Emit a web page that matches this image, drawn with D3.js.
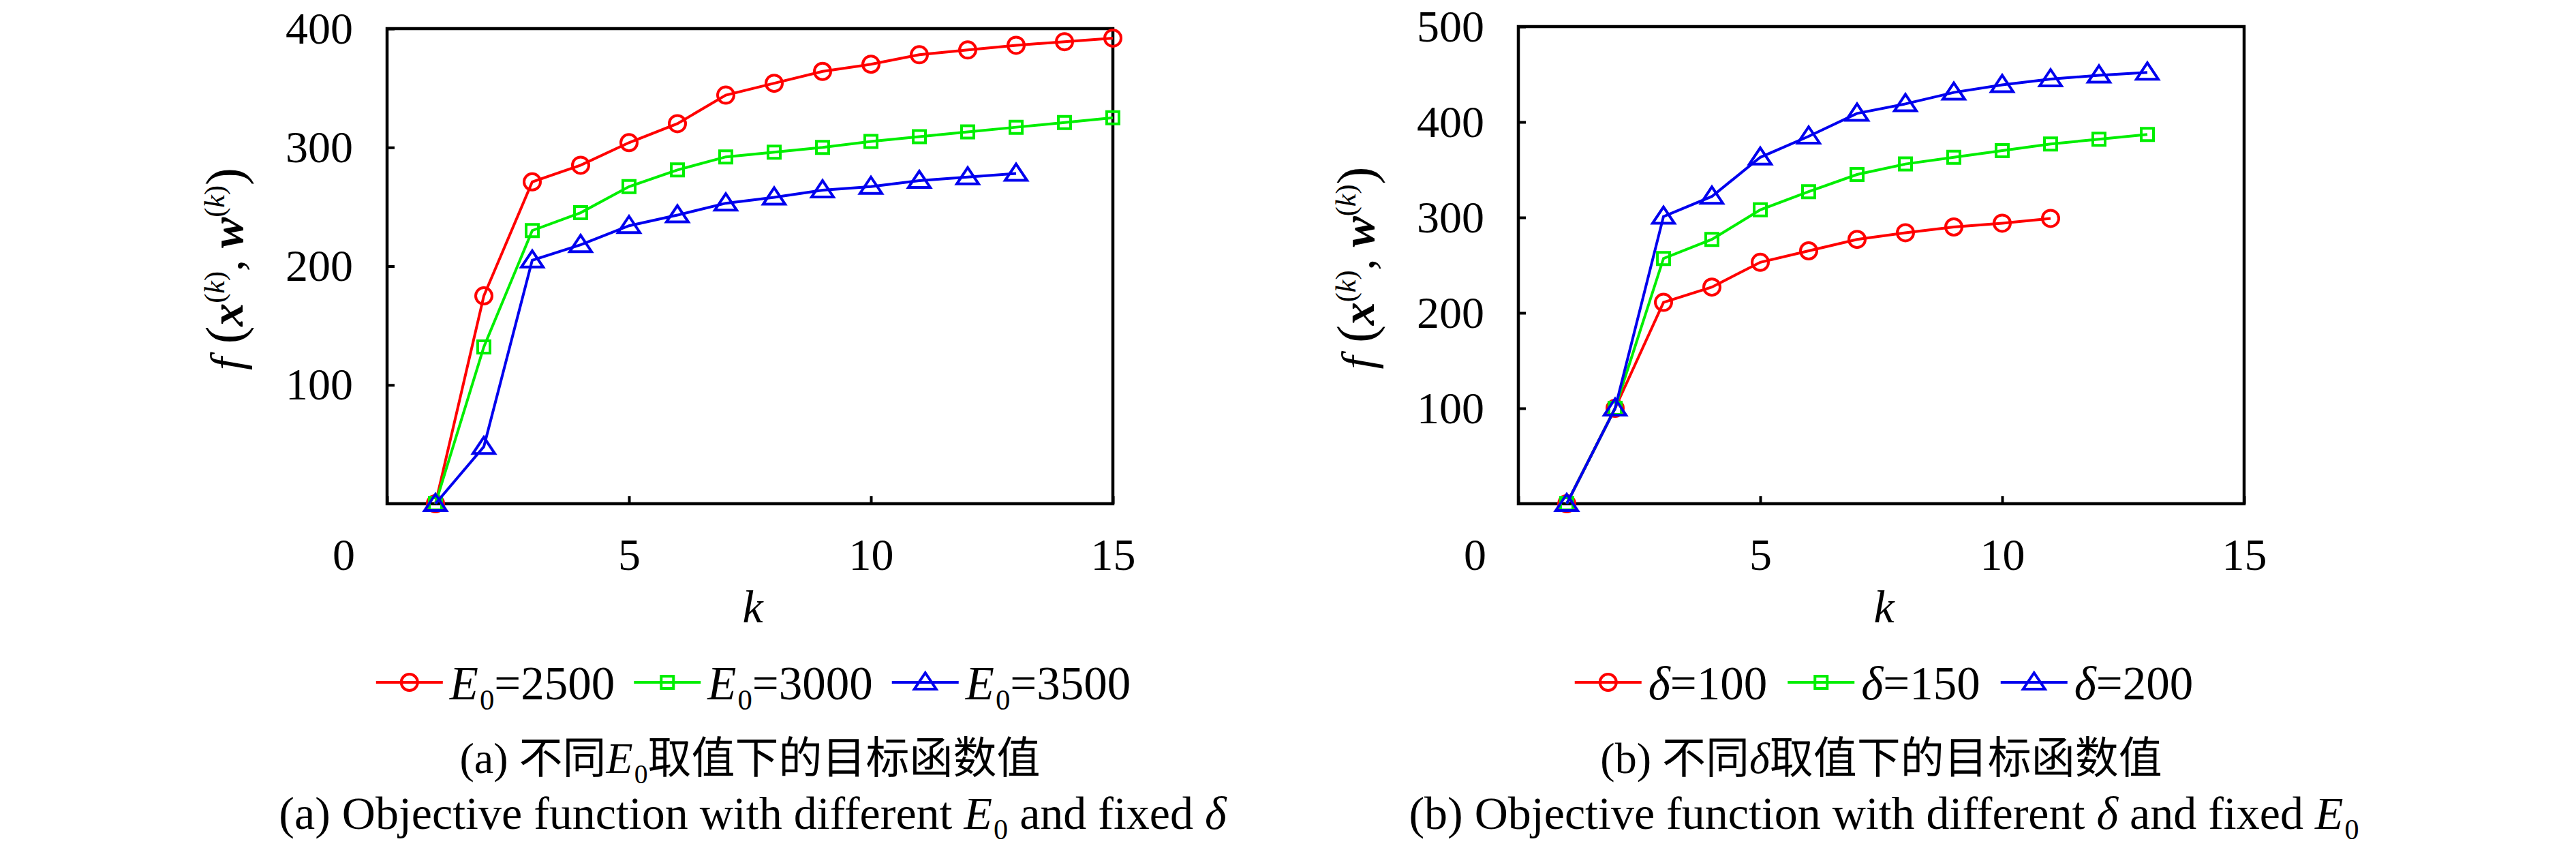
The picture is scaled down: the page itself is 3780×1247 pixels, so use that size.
<!DOCTYPE html>
<html>
<head>
<meta charset="utf-8">
<title>Objective function</title>
<script src="https://cdn.jsdelivr.net/npm/d3@7"></script>
<style>
  body { margin: 0; background: #fff; }
  svg { display: block; background: #fff; }
  text { font-family: "Liberation Serif", "Noto Sans CJK SC", serif; fill: #000; }
</style>
</head>
<body>
<script>
// ---- data ----
// panel (a): different E0, fixed delta
const kA = [1, 2, 3, 4, 5, 6, 7, 8, 9, 10, 11, 12, 13, 14, 15];
const aE2500 = [0, 175, 271, 285, 304, 320, 344, 354, 364, 370, 378, 382, 386, 389, 392];
const aE3000 = [0, 132, 230, 245, 267, 281, 292, 296, 300, 305, 309, 313, 317, 321, 325];
const aE3500 = [0, 48, 205, 218, 234, 243, 253, 258, 264, 267, 272, 275, 278];
const namesA = ["2500", "3000", "3500"];
const yTicksA = [100, 200, 300, 400];

// panel (b): different delta, fixed E0
const kB = [1, 2, 3, 4, 5, 6, 7, 8, 9, 10, 11, 12, 13];
const bD100 = [0, 100, 211, 227, 253, 265, 277, 284, 290, 294, 299];
const bD150 = [0, 100, 257, 277, 308, 327, 345, 356, 363, 370, 377, 382, 387];
const bD200 = [0, 100, 301, 322, 363, 385, 409, 419, 431, 439, 445, 449, 452];
const namesB = ["100", "150", "200"];
const yTicksB = [100, 200, 300, 400, 500];

const xTicks = [0, 5, 10, 15];

const colors = ["#ff0000", "#00ee00", "#0000ee"];
const markers = ["circle", "square", "triangle"];

// ---- drawing ----
const W = 3780, H = 1247;
const svg = d3.select("body").append("svg")
  .attr("width", W)
  .attr("height", H);

// marker shapes
function markerPath(type) {
  if (type === "circle") return "M12,0A12,12 0 1,1 -12,0A12,12 0 1,1 12,0Z";
  if (type === "square") return "M-9,-9H9V9H-9Z";
  return "M0,-14L16,10L-16,10Z";
}

// E with subscript 0; returns the shift the next tspan has to undo
function addE0(t) {
  t.append("tspan").attr("font-style", "italic").text("E");
  t.append("tspan").attr("font-size", "0.62em").attr("dy", 15).attr("dx", 2).text("0");
  return -15;
}
function addDelta(t) {
  t.append("tspan").attr("font-style", "italic").text("δ");
  return 0;
}

function drawPanel(cfg) {
  const g = svg.append("g");
  const x = d3.scaleLinear().domain([0, 15]).range([cfg.left, cfg.right]);
  const y = d3.scaleLinear().domain([0, cfg.yMax]).range([cfg.bottom, cfg.top]);
  const cx = (cfg.left + cfg.right) / 2;

  // y axis
  const yAx = g.append("g")
    .attr("transform", `translate(${cfg.left},0)`)
    .call(d3.axisLeft(y).tickValues(cfg.yTicks).tickSizeInner(-11).tickSizeOuter(0).tickPadding(50));
  yAx.select(".domain").remove();
  yAx.selectAll("line").attr("stroke", "#000").attr("stroke-width", 4);
  yAx.selectAll("text").attr("font-size", 66).attr("font-family", null);

  // x axis
  const xAx = g.append("g")
    .attr("transform", `translate(0,${cfg.bottom})`)
    .call(d3.axisBottom(x).tickValues(xTicks).tickSizeInner(-11).tickSizeOuter(0).tickPadding(50));
  xAx.select(".domain").remove();
  xAx.selectAll("line").attr("stroke", "#000").attr("stroke-width", 4);
  xAx.selectAll("text").attr("font-size", 66).attr("font-family", null)
    .attr("dx", d => d === 0 ? -64 : 0);

  // frame
  g.append("rect")
    .attr("x", cfg.left).attr("y", cfg.top)
    .attr("width", cfg.right - cfg.left).attr("height", cfg.bottom - cfg.top)
    .attr("fill", "none").attr("stroke", "#000").attr("stroke-width", 4.5);

  // series
  const line = d3.line().x(d => x(d.k)).y(d => y(d.v));
  cfg.series.forEach((vals, i) => {
    const pts = vals.map((v, j) => ({ k: cfg.k[j], v: v }));
    g.append("path")
      .datum(pts)
      .attr("d", line)
      .attr("fill", "none")
      .attr("stroke", colors[i])
      .attr("stroke-width", 4);
    g.selectAll(null)
      .data(pts)
      .enter()
      .append("path")
      .attr("d", markerPath(markers[i]))
      .attr("transform", d => `translate(${x(d.k)},${y(d.v)})`)
      .attr("fill", "none")
      .attr("stroke", colors[i])
      .attr("stroke-width", 4);
  });

  // y title: f (x^(k), w^(k))
  const ty = (cfg.top + cfg.bottom) / 2 + 4;
  const tx = cfg.left - 236;
  const yt = g.append("text")
    .attr("transform", `translate(${tx},${ty}) rotate(-90)`)
    .attr("text-anchor", "middle")
    .attr("dy", "0.35em")
    .attr("font-size", 68);
  yt.append("tspan").attr("font-style", "italic").text("f");
  yt.append("tspan").attr("font-size", 78).text(" (");
  yt.append("tspan").attr("font-style", "italic").attr("font-weight", "bold").text("x");
  yt.append("tspan").attr("font-size", 42).attr("dy", -27).text("(");
  yt.append("tspan").attr("font-size", 42).attr("font-style", "italic").text("k");
  yt.append("tspan").attr("font-size", 42).text(")");
  yt.append("tspan").attr("dy", 27).text(",  ");
  yt.append("tspan").attr("font-style", "italic").attr("font-weight", "bold").text("w");
  yt.append("tspan").attr("font-size", 42).attr("dy", -27).text("(");
  yt.append("tspan").attr("font-size", 42).attr("font-style", "italic").text("k");
  yt.append("tspan").attr("font-size", 42).text(")");
  yt.append("tspan").attr("font-size", 78).attr("dy", 27).text(")");

  // x title
  g.append("text")
    .attr("x", cx + 4).attr("y", 913)
    .attr("text-anchor", "middle")
    .attr("font-size", 68)
    .attr("font-style", "italic")
    .text("k");

  // legend
  const leg = g.append("g");
  let pos = 0;
  cfg.names.forEach((nm, i) => {
    const it = leg.append("g").attr("transform", `translate(${pos},0)`);
    it.append("line").attr("x1", 0).attr("x2", 98).attr("y1", 0).attr("y2", 0)
      .attr("stroke", colors[i]).attr("stroke-width", 4);
    it.append("path").attr("d", markerPath(markers[i]))
      .attr("transform", "translate(49,0)")
      .attr("fill", "none").attr("stroke", colors[i]).attr("stroke-width", 4);
    const t = it.append("text").attr("x", 108).attr("y", 25).attr("font-size", 69);
    const back = cfg.legendSym(t);
    t.append("tspan").attr("dy", back).text("=" + nm);
    pos += 108 + t.node().getComputedTextLength() + 30;
  });
  pos -= 30;
  leg.attr("transform", `translate(${cx - pos / 2 + 4},1001)`);

  // captions
  const c1 = g.append("text")
    .attr("x", cx).attr("y", 1134)
    .attr("text-anchor", "middle")
    .attr("font-size", 64);
  c1.append("tspan").text(cfg.tag + " 不同");
  const b1 = cfg.captionSym(c1);
  c1.append("tspan").attr("dy", b1).text("取值下的目标函数值");

  const c2 = g.append("text")
    .attr("x", cx + 4).attr("y", 1216)
    .attr("text-anchor", "middle")
    .attr("font-size", 68);
  c2.append("tspan").text(cfg.tag + " Objective function with different ");
  const b2 = cfg.captionSym(c2);
  c2.append("tspan").attr("dy", b2).text(" and fixed ");
  cfg.fixedSym(c2);
}

drawPanel({
  left: 568, right: 1633, top: 42, bottom: 739,
  yMax: 400, yTicks: yTicksA, k: kA,
  series: [aE2500, aE3000, aE3500],
  names: namesA, legendSym: addE0,
  tag: "(a)", captionSym: addE0, fixedSym: addDelta
});

drawPanel({
  left: 2228, right: 3293, top: 39, bottom: 739,
  yMax: 500, yTicks: yTicksB, k: kB,
  series: [bD100, bD150, bD200],
  names: namesB, legendSym: addDelta,
  tag: "(b)", captionSym: addDelta, fixedSym: addE0
});
</script>
</body>
</html>
